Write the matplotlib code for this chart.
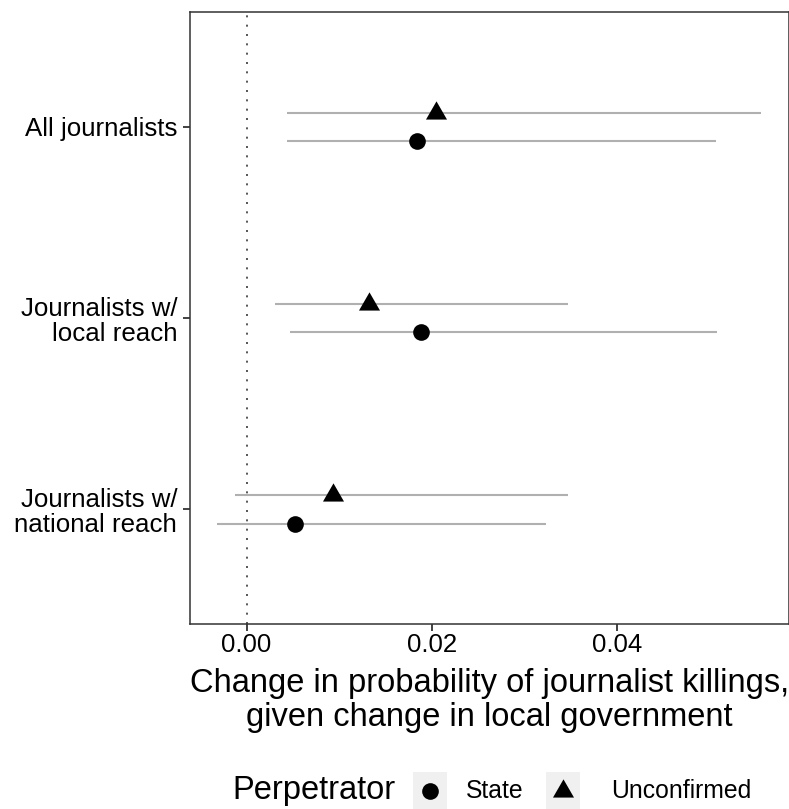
import numpy as np
import matplotlib
matplotlib.use("Agg")
import matplotlib.pyplot as plt
from matplotlib.path import Path
from matplotlib.patches import Rectangle
from matplotlib.lines import Line2D

plt.rcParams['font.family'] = ['Liberation Sans', 'DejaVu Sans']

# ---- data ----
categories = ["All journalists", "Journalists w/\nlocal reach", "Journalists w/\nnational reach"]
groups = ["State", "Unconfirmed"]
state_est = [0.0184, 0.0188, 0.0052]
state_lo = [0.0044, 0.0047, -0.0032]
state_hi = [0.0507, 0.0508, 0.0323]
unconf_est = [0.0205, 0.0132, 0.0093]
unconf_lo = [0.0044, 0.0031, -0.0012]
unconf_hi = [0.0556, 0.0347, 0.0347]
xticks = [0.00, 0.02, 0.04]
xticklabels = ["0.00", "0.02", "0.04"]
xlabel = "Change in probability of journalist killings,\ngiven change in local government"
legend_title = "Perpetrator"

W, H = 789, 809
fig = plt.figure(figsize=(W / 100, H / 100), dpi=100)
left, right, top, bottom = 189.7, 788.5, 12.3, 624.0
ax = fig.add_axes([left / W, 1 - bottom / H, (right - left) / W, (bottom - top) / H])

# centroid-centred triangle like R's pch 17
tri = Path([(0, 1), (-np.sqrt(3) / 2, -0.5), (np.sqrt(3) / 2, -0.5), (0, 1)],
           [Path.MOVETO, Path.LINETO, Path.LINETO, Path.CLOSEPOLY])

n = len(categories)
ypos = np.arange(n, 0, -1).astype(float)
dodge = 0.075
err_color = "#b0b0b0"

ax.axvline(0, color="#3a3a3a", lw=1.2, linestyle=(0, (1.2, 4.4)), zorder=1)

ax.hlines(ypos + dodge, unconf_lo, unconf_hi, color=err_color, lw=1.5, zorder=2)
ax.hlines(ypos - dodge, state_lo, state_hi, color=err_color, lw=1.5, zorder=2)
ax.plot(unconf_est, ypos + dodge, linestyle="none", marker=tri, ms=17.5, mew=0,
        color="black", zorder=3)
ax.plot(state_est, ypos - dodge, linestyle="none", marker="o", ms=12, mew=0,
        color="black", zorder=3)

lo = min(state_lo + unconf_lo)
hi = max(state_hi + unconf_hi)
pad = 0.05 * (hi - lo)
ax.set_xlim(lo - pad, hi + pad)
ax.set_ylim(0.4, n + 0.6)

ax.set_xticks(xticks)
ax.set_xticklabels(xticklabels)
ax.set_yticks(ypos)
ax.set_yticklabels(categories, linespacing=1.07, multialignment="right")
ax.tick_params(axis="both", length=5, width=1.3, color="#333333", labelsize=18.6,
               labelcolor="black", pad=4.0)
ax.tick_params(axis="x", pad=1.5)
for s in ax.spines.values():
    s.set_color("#333333")
    s.set_linewidth(1.1)

ax.set_xlabel(xlabel, fontsize=23.5, linespacing=1.12, labelpad=8)

# ---- legend (bottom, horizontal) ----
def fx(x):
    return x / W

def fy(y):
    return 1 - y / H

fig.text(fx(232), fy(790), legend_title, fontsize=23.5, va="center", ha="left")
key_w, key_h = 34, 37
for cx, marker, ms, label, tx in [(430, "o", 12, "State", 466), (563, tri, 17.5, "Unconfirmed", 611)]:
    fig.add_artist(Rectangle((fx(cx - key_w / 2), fy(791 + key_h / 2)), key_w / W, key_h / H,
                             transform=fig.transFigure, facecolor="#f0f0f0", edgecolor="none"))
    fig.add_artist(Line2D([fx(cx)], [fy(791)], transform=fig.transFigure, marker=marker,
                          ms=ms, mew=0, color="black", linestyle="none"))
    fig.text(fx(tx), fy(791), label, fontsize=17.8, va="center", ha="left")

fig.savefig("out.png", dpi=100, facecolor="white")
